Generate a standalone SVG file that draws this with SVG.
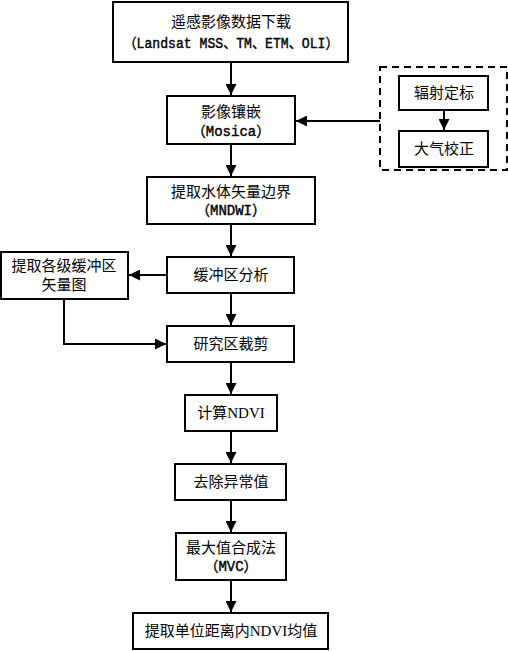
<svg xmlns="http://www.w3.org/2000/svg" width="508" height="651" viewBox="0 0 508 651">
<style>
.b{fill:#fff;stroke:#000;stroke-width:2}
.t{font-family:"Liberation Serif","Noto Sans CJK SC",serif;font-size:15px;fill:#000;text-anchor:middle}
.m{font-family:"Liberation Mono","Noto Sans CJK SC",monospace;font-size:14px;fill:#000;stroke:#000;stroke-width:0.4;text-anchor:middle}
.c{fill:none;stroke:#000;stroke-width:2}
</style>
<defs>
<marker id="a" viewBox="0 0 10 10" refX="10" refY="5" markerWidth="5.5" markerHeight="5.5" orient="auto" markerUnits="strokeWidth">
<path d="M0,0 L10,5 L0,10 z" fill="#000"/>
</marker>
</defs>
<rect width="508" height="651" fill="#fff"/>
<g id="connectors">
<path class="c" d="M231,62 V95" marker-end="url(#a)"/>
<path class="c" d="M231,144 V176" marker-end="url(#a)"/>
<path class="c" d="M231,224 V256" marker-end="url(#a)"/>
<path class="c" d="M167,275 H129" marker-end="url(#a)"/>
<path class="c" d="M64,299 V344 H166" marker-end="url(#a)"/>
<path class="c" d="M231,293 V325" marker-end="url(#a)"/>
<path class="c" d="M231,362 V394" marker-end="url(#a)"/>
<path class="c" d="M231,431 V463" marker-end="url(#a)"/>
<path class="c" d="M231,500 V532" marker-end="url(#a)"/>
<path class="c" d="M231,580 V612" marker-end="url(#a)"/>
<path class="c" d="M380,121 H296" marker-end="url(#a)"/>
<path class="c" d="M444,110 V130" marker-end="url(#a)"/>
</g>
<g id="n1"><rect class="b" x="113" y="2" width="235" height="60"/>
<text class="t" x="231" y="27">遥感影像数据下载</text>
<text class="m" x="231" y="48" textLength="215" lengthAdjust="spacingAndGlyphs">（Landsat MSS、TM、ETM、OLI）</text></g>
<g id="n2"><rect class="b" x="167" y="96" width="128" height="48"/>
<text class="t" x="231" y="117">影像镶嵌</text>
<text class="m" x="231" y="136">（Mosica）</text></g>
<g id="n3"><rect class="b" x="147" y="177" width="168" height="47"/>
<text class="t" x="231" y="197">提取水体矢量边界</text>
<text class="m" x="231" y="215">（MNDWI）</text></g>
<g id="n4"><rect class="b" x="167" y="257" width="127" height="36"/>
<text class="t" x="231" y="280">缓冲区分析</text></g>
<g id="n5"><rect class="b" x="1" y="252" width="127" height="47"/>
<text class="t" x="64" y="271">提取各级缓冲区</text>
<text class="t" x="64" y="290">矢量图</text></g>
<g id="n6"><rect class="b" x="167" y="326" width="127" height="36"/>
<text class="t" x="231" y="349">研究区裁剪</text></g>
<g id="n7"><rect class="b" x="185" y="395" width="92" height="36"/>
<text class="t" x="231" y="418">计算NDVI</text></g>
<g id="n8"><rect class="b" x="175" y="464" width="111" height="36"/>
<text class="t" x="231" y="487">去除异常值</text></g>
<g id="n9"><rect class="b" x="176" y="533" width="110" height="47"/>
<text class="t" x="231" y="553">最大值合成法</text>
<text class="m" x="231" y="571">（MVC）</text></g>
<g id="n10"><rect class="b" x="133" y="613" width="195" height="36"/>
<text class="t" x="231" y="636">提取单位距离内NDVI均值</text></g>
<g id="g1"><rect x="380" y="67" width="127" height="103" fill="none" stroke="#000" stroke-width="2" stroke-dasharray="7,5"/></g>
<g id="n11"><rect class="b" x="399" y="76" width="89" height="34"/>
<text class="t" x="444" y="98">辐射定标</text></g>
<g id="n12"><rect class="b" x="399" y="131" width="89" height="36"/>
<text class="t" x="444" y="154">大气校正</text></g>
</svg>
